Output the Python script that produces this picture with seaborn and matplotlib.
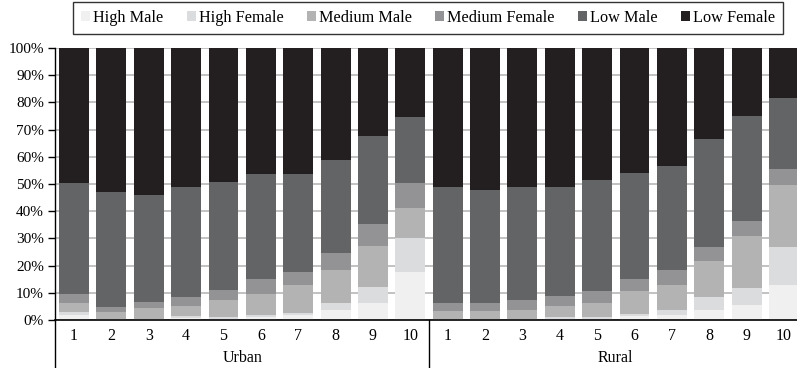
import matplotlib
matplotlib.use("Agg")
import matplotlib.pyplot as plt
import matplotlib.transforms as mtransforms
from matplotlib.patches import Patch
import numpy as np
import pandas as pd
import seaborn as sns

# ---- data ----
groups = ["Urban", "Rural"]
deciles = ["1", "2", "3", "4", "5", "6", "7", "8", "9", "10"]
series = ["High Male", "High Female", "Medium Male", "Medium Female", "Low Male", "Low Female"]

high_male_urban     = [1.8, 0.2, 0.2, 0.6, 0.5, 1.1, 1.8, 3.5, 6.1, 17.8]
high_female_urban   = [1.3, 0.2, 0.2, 0.8, 0.6, 0.6, 0.6, 2.9, 6.2, 12.5]
medium_male_urban   = [3.3, 2.7, 3.9, 3.9, 6.1, 8.0, 10.6, 11.8, 15.0, 10.9]
medium_female_urban = [3.0, 1.6, 2.5, 3.0, 4.0, 5.2, 4.8, 6.6, 8.1, 9.2]
low_male_urban      = [41.1, 42.2, 39.2, 40.6, 39.6, 38.6, 35.9, 34.2, 32.2, 24.2]
low_female_urban    = [49.5, 53.1, 54.0, 51.1, 49.2, 46.5, 46.3, 41.0, 32.4, 25.4]

high_male_rural     = [0.2, 0.2, 0.2, 0.5, 0.5, 1.4, 1.7, 3.5, 5.4, 13.0]
high_female_rural   = [0.2, 0.2, 0.2, 0.6, 0.6, 0.7, 1.8, 4.8, 6.5, 14.0]
medium_male_rural   = [2.8, 2.8, 3.1, 3.9, 5.3, 8.7, 9.2, 13.5, 19.1, 22.7]
medium_female_rural = [3.2, 3.2, 3.7, 4.0, 4.4, 4.1, 5.5, 5.2, 5.5, 5.8]
low_male_rural      = [42.5, 41.4, 41.7, 39.9, 40.7, 39.2, 38.4, 39.5, 38.4, 26.0]
low_female_rural    = [51.1, 52.2, 51.1, 51.1, 48.5, 45.9, 43.4, 33.5, 25.1, 18.5]

colors = ["#f0f0f0", "#dbdcdd", "#b3b3b4", "#939395", "#636466", "#231f20"]

# ---- build table ----
vals = {
    "High Male": high_male_urban + high_male_rural,
    "High Female": high_female_urban + high_female_rural,
    "Medium Male": medium_male_urban + medium_male_rural,
    "Medium Female": medium_female_urban + medium_female_rural,
    "Low Male": low_male_urban + low_male_rural,
    "Low Female": low_female_urban + low_female_rural,
}
keys = [f"{g[0]}{d}" for g in groups for d in deciles]
df = pd.DataFrame(vals, index=keys)
cum = df.cumsum(axis=1)
cum = cum.div(cum["Low Female"], axis=0) * 100

plt.rcParams["font.family"] = ["Liberation Serif", "DejaVu Serif"]
fig = plt.figure(figsize=(7.97, 3.68), dpi=100)
ax = fig.add_axes([55 / 797, 48 / 368, 1 - 55 / 797, 272 / 368])

for s, c in zip(reversed(series), reversed(colors)):
    d = pd.DataFrame({"k": keys, "v": cum[s].values})
    sns.barplot(data=d, x="k", y="v", order=keys, color=c, saturation=1,
                width=0.8, linewidth=0, edgecolor="none", ax=ax, zorder=2)

ax.set_ylim(0, 100)
ax.set_xlim(-0.51, 19.35)
ax.set_yticks(np.arange(0, 101, 10))
ax.set_yticklabels([f"{v}%" for v in range(0, 101, 10)], fontsize=11)
ax.set_xticks(range(20))
ax.set_xticklabels(deciles + deciles, fontsize=11.5)
ax.tick_params(axis="x", length=0, pad=6)
ax.tick_params(axis="y", length=5, width=1, direction="out", pad=3)
ax.set_xlabel("")
ax.set_ylabel("")
ax.grid(axis="y", color="#b8b8b8", linewidth=1.2, zorder=0)
ax.set_axisbelow(True)
for sp in ["top", "right"]:
    ax.spines[sp].set_visible(False)
ax.spines["left"].set_linewidth(1)
ax.spines["bottom"].set_linewidth(1.2)

trans = mtransforms.blended_transform_factory(ax.transData, ax.transAxes)
for xline in [-0.51, 9.5]:
    ax.plot([xline, xline], [0, -0.18], transform=trans, color="black",
            linewidth=1, clip_on=False)
for i, g in enumerate(groups):
    ax.text(4.5 + 10 * i, -0.14, g, transform=trans, ha="center", va="center",
            fontsize=11.5)

handles = [Patch(facecolor=c, edgecolor="none", label=s) for s, c in zip(series, colors)]
leg = fig.legend(handles=handles, loc="upper center", bbox_to_anchor=(428 / 797, 1 - 2 / 368),
                 ncol=6, fontsize=11.7, frameon=True, fancybox=False, edgecolor="black",
                 handlelength=0.55, handleheight=0.55, handletextpad=0.2,
                 columnspacing=1.42, borderpad=0.5, borderaxespad=0)
leg.get_frame().set_linewidth(1)

fig.savefig("out.png", dpi=100)
